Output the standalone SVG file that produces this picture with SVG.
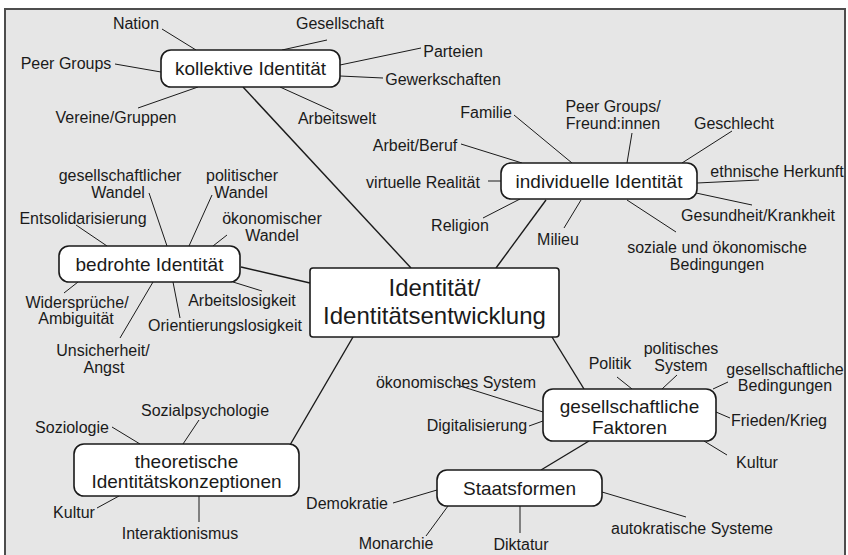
<svg xmlns="http://www.w3.org/2000/svg" width="848" height="555" viewBox="0 0 848 555">
  <style>
    .frame { fill: #e6e6e6; stroke: #4d4d4d; stroke-width: 2; }
    .box { fill: #ffffff; stroke: #1a1a1a; stroke-width: 1.6; }
    .hub { font-family: "Liberation Sans", Arial, sans-serif; font-size: 19px; fill: #1a1a1a; text-anchor: middle; dominant-baseline: central; }
    .core { font-family: "Liberation Sans", Arial, sans-serif; font-size: 24px; fill: #1a1a1a; text-anchor: middle; dominant-baseline: central; }
    .leaf { font-family: "Liberation Sans", Arial, sans-serif; font-size: 16px; fill: #1a1a1a; text-anchor: middle; dominant-baseline: central; }
    #connectors line { stroke: #1a1a1a; stroke-width: 1; fill: none; }
    #connectors .main { stroke-width: 1.4; }
  </style>

  <rect width="848" height="555" fill="#ffffff"/>
  <rect class="frame" x="5" y="9" width="840" height="560"/>

  <g id="connectors">
    <!-- hub links -->
    <line class="main" x1="243" y1="87" x2="411" y2="268"/>
    <line class="main" x1="546" y1="200" x2="496" y2="268"/>
    <line class="main" x1="241" y1="267" x2="310" y2="283"/>
    <line class="main" x1="353" y1="337" x2="290" y2="445"/>
    <line class="main" x1="552" y1="337" x2="584" y2="389"/>
    <line class="main" x1="589" y1="441" x2="541" y2="470"/>
    <!-- kollektive Identität -->
    <line x1="162" y1="29" x2="196" y2="50"/>
    <line x1="282" y1="50" x2="327" y2="40"/>
    <line x1="115" y1="64" x2="161" y2="72"/>
    <line x1="340" y1="65" x2="421" y2="48"/>
    <line x1="340" y1="76" x2="383" y2="78"/>
    <line x1="138" y1="108" x2="198" y2="87"/>
    <line x1="280" y1="87" x2="333" y2="111"/>
    <!-- individuelle Identität -->
    <line x1="514" y1="115" x2="572" y2="163"/>
    <line x1="632" y1="133" x2="627" y2="163"/>
    <line x1="732" y1="131" x2="682" y2="163"/>
    <line x1="697" y1="183" x2="759" y2="180"/>
    <line x1="696" y1="193" x2="752" y2="205"/>
    <line x1="627" y1="200" x2="676" y2="232"/>
    <line x1="581" y1="200" x2="564" y2="228"/>
    <line x1="483" y1="218" x2="520" y2="199"/>
    <line x1="488" y1="181" x2="501" y2="181"/>
    <line x1="461" y1="144" x2="522" y2="163"/>
    <!-- bedrohte Identität -->
    <line x1="149" y1="193" x2="167" y2="246"/>
    <line x1="212" y1="195" x2="189" y2="246"/>
    <line x1="76" y1="225" x2="107" y2="246"/>
    <line x1="227" y1="235" x2="213" y2="246"/>
    <line x1="233" y1="282" x2="262" y2="291"/>
    <line x1="64" y1="293" x2="78" y2="282"/>
    <line x1="173" y1="282" x2="180" y2="318"/>
    <line x1="153" y1="282" x2="120" y2="338"/>
    <!-- theoretische Identitätskonzeptionen -->
    <line x1="199" y1="420" x2="183" y2="444"/>
    <line x1="112" y1="427" x2="140" y2="444"/>
    <line x1="97" y1="508" x2="119" y2="496"/>
    <line x1="199" y1="496" x2="199" y2="522"/>
    <!-- Staatsformen -->
    <line x1="393" y1="503" x2="437" y2="490"/>
    <line x1="448" y1="506" x2="426" y2="536"/>
    <line x1="520" y1="506" x2="520" y2="533"/>
    <line x1="602" y1="492" x2="686" y2="517"/>
    <!-- gesellschaftliche Faktoren -->
    <line x1="617" y1="377" x2="632" y2="389"/>
    <line x1="677" y1="375" x2="662" y2="389"/>
    <line x1="728" y1="382" x2="713" y2="389"/>
    <line x1="716" y1="412" x2="730" y2="418"/>
    <line x1="704" y1="441" x2="727" y2="455"/>
    <line x1="457" y1="385" x2="543" y2="412"/>
    <line x1="529" y1="426" x2="543" y2="421"/>
  </g>

  <!-- hub nodes -->
  <g id="identitaet">
    <rect class="box" x="310" y="268" width="249" height="69" rx="3"/>
    <text class="core" x="434.5" y="287">Identität/</text>
    <text class="core" x="434.5" y="315">Identitätsentwicklung</text>
  </g>
  <g id="kollektive">
    <rect class="box" x="161" y="50" width="179" height="37" rx="10"/>
    <text class="hub" x="250.5" y="68.5">kollektive Identität</text>
  </g>
  <g id="individuelle">
    <rect class="box" x="501" y="163" width="196" height="36" rx="10"/>
    <text class="hub" x="599" y="181">individuelle Identität</text>
  </g>
  <g id="bedrohte">
    <rect class="box" x="59" y="246" width="181" height="36" rx="10"/>
    <text class="hub" x="149.5" y="264">bedrohte Identität</text>
  </g>
  <g id="theoretische">
    <rect class="box" x="74" y="444" width="225" height="52" rx="10"/>
    <text class="hub" x="186.5" y="461">theoretische</text>
    <text class="hub" x="186.5" y="481">Identitätskonzeptionen</text>
  </g>
  <g id="gesellschaftliche">
    <rect class="box" x="543" y="389" width="173" height="52" rx="10"/>
    <text class="hub" x="629.5" y="406">gesellschaftliche</text>
    <text class="hub" x="629.5" y="427">Faktoren</text>
  </g>
  <g id="staatsformen">
    <rect class="box" x="437" y="470" width="165" height="36" rx="10"/>
    <text class="hub" x="519.5" y="488">Staatsformen</text>
  </g>

  <!-- leaves: kollektive Identität -->
  <g id="nation"><text class="leaf" x="136" y="23">Nation</text></g>
  <g id="gesellschaft"><text class="leaf" x="340" y="23">Gesellschaft</text></g>
  <g id="peer-groups"><text class="leaf" x="66" y="63">Peer Groups</text></g>
  <g id="parteien"><text class="leaf" x="453" y="51">Parteien</text></g>
  <g id="gewerkschaften"><text class="leaf" x="443" y="79">Gewerkschaften</text></g>
  <g id="vereine"><text class="leaf" x="116" y="117">Vereine/Gruppen</text></g>
  <g id="arbeitswelt"><text class="leaf" x="337" y="118">Arbeitswelt</text></g>

  <!-- leaves: individuelle Identität -->
  <g id="familie"><text class="leaf" x="486" y="112">Familie</text></g>
  <g id="freunde">
    <text class="leaf" x="613" y="106">Peer Groups/</text>
    <text class="leaf" x="613" y="123">Freund:innen</text>
  </g>
  <g id="geschlecht"><text class="leaf" x="734" y="123">Geschlecht</text></g>
  <g id="herkunft"><text class="leaf" x="777" y="171">ethnische Herkunft</text></g>
  <g id="gesundheit"><text class="leaf" x="758" y="215">Gesundheit/Krankheit</text></g>
  <g id="bedingungen-sozial">
    <text class="leaf" x="717" y="247">soziale und ökonomische</text>
    <text class="leaf" x="717" y="264">Bedingungen</text>
  </g>
  <g id="milieu"><text class="leaf" x="558" y="239">Milieu</text></g>
  <g id="religion"><text class="leaf" x="460" y="225">Religion</text></g>
  <g id="virtuell"><text class="leaf" x="423" y="182">virtuelle Realität</text></g>
  <g id="arbeit-beruf"><text class="leaf" x="415" y="145">Arbeit/Beruf</text></g>

  <!-- leaves: bedrohte Identität -->
  <g id="wandel-gesellschaft">
    <text class="leaf" x="120" y="175">gesellschaftlicher</text>
    <text class="leaf" x="118" y="192">Wandel</text>
  </g>
  <g id="wandel-politik">
    <text class="leaf" x="242" y="175">politischer</text>
    <text class="leaf" x="241" y="192">Wandel</text>
  </g>
  <g id="entsolidarisierung"><text class="leaf" x="83" y="218">Entsolidarisierung</text></g>
  <g id="wandel-oekonomie">
    <text class="leaf" x="272" y="218">ökonomischer</text>
    <text class="leaf" x="272" y="235">Wandel</text>
  </g>
  <g id="arbeitslosigkeit"><text class="leaf" x="242" y="300">Arbeitslosigkeit</text></g>
  <g id="widersprueche">
    <text class="leaf" x="77" y="302">Widersprüche/</text>
    <text class="leaf" x="76" y="318">Ambiguität</text>
  </g>
  <g id="orientierungslosigkeit"><text class="leaf" x="225" y="325">Orientierungslosigkeit</text></g>
  <g id="unsicherheit">
    <text class="leaf" x="103" y="350">Unsicherheit/</text>
    <text class="leaf" x="104" y="367">Angst</text>
  </g>

  <!-- leaves: theoretische Identitätskonzeptionen -->
  <g id="sozialpsychologie"><text class="leaf" x="205" y="410">Sozialpsychologie</text></g>
  <g id="soziologie"><text class="leaf" x="72" y="427">Soziologie</text></g>
  <g id="kultur-theorie"><text class="leaf" x="74" y="512">Kultur</text></g>
  <g id="interaktionismus"><text class="leaf" x="180" y="533">Interaktionismus</text></g>

  <!-- leaves: Staatsformen -->
  <g id="demokratie"><text class="leaf" x="347" y="503">Demokratie</text></g>
  <g id="monarchie"><text class="leaf" x="396" y="543">Monarchie</text></g>
  <g id="diktatur"><text class="leaf" x="521" y="544">Diktatur</text></g>
  <g id="autokratie"><text class="leaf" x="692" y="528">autokratische Systeme</text></g>

  <!-- leaves: gesellschaftliche Faktoren -->
  <g id="politik"><text class="leaf" x="610" y="363">Politik</text></g>
  <g id="politisches-system">
    <text class="leaf" x="681" y="348">politisches</text>
    <text class="leaf" x="681" y="365">System</text>
  </g>
  <g id="bedingungen-gesellschaft">
    <text class="leaf" x="785" y="369">gesellschaftliche</text>
    <text class="leaf" x="785" y="385">Bedingungen</text>
  </g>
  <g id="frieden"><text class="leaf" x="779" y="420">Frieden/Krieg</text></g>
  <g id="kultur-faktor"><text class="leaf" x="757" y="462">Kultur</text></g>
  <g id="oekonomisches-system"><text class="leaf" x="456" y="382">ökonomisches System</text></g>
  <g id="digitalisierung"><text class="leaf" x="477" y="425">Digitalisierung</text></g>
</svg>
